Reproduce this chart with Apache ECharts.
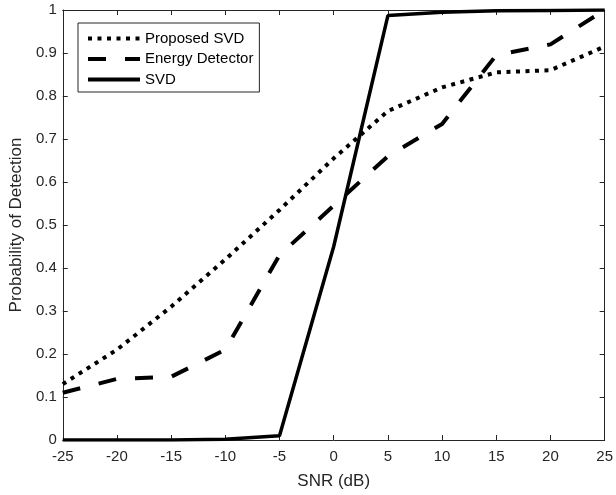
<!DOCTYPE html>
<html>
<head>
<meta charset="utf-8">
<script src="https://cdn.jsdelivr.net/npm/echarts@6/dist/echarts.min.js"></script>
<style>
html,body{margin:0;padding:0;background:#fff;}
#chart{width:616px;height:495px;}
</style>
</head>
<body>
<div id="chart"></div>
<script>
const snr = [-25, -20, -15, -10, -5, 0, 5, 10, 15, 20, 25];
const proposedSVD = [0.13, 0.21, 0.31, 0.42, 0.535, 0.655, 0.765, 0.82, 0.855, 0.86, 0.915];
const energyDetector = [0.11, 0.142, 0.147, 0.21, 0.43, 0.545, 0.66, 0.735, 0.895, 0.92, 1.0];
const svd = [0, 0, 0, 0.002, 0.01, 0.45, 0.987, 0.995, 0.998, 0.999, 1.0];
const seriesNames = ['Proposed SVD', 'Energy Detector', 'SVD'];

const pairs = arr => snr.map((x, i) => [x, arr[i]]);
const font = 'Liberation Sans, Arial, Helvetica, sans-serif';
const axisColor = '#262626';

const chart = echarts.init(document.getElementById('chart'), null, {renderer: 'canvas'});
const xBase = {
  type: 'value', min: -25, max: 25, interval: 5,
  axisLine: {show: true, onZero: false, lineStyle: {color: axisColor, width: 1}},
  axisTick: {show: true, inside: true, length: 5, lineStyle: {color: axisColor}},
  splitLine: {show: false}
};
const yBase = {
  type: 'value', min: 0, max: 1, interval: 0.1,
  axisLine: {show: true, onZero: false, lineStyle: {color: axisColor, width: 1}},
  axisTick: {show: true, inside: true, length: 5, lineStyle: {color: axisColor}},
  splitLine: {show: false}
};
chart.setOption({
  animation: false,
  backgroundColor: '#ffffff',
  grid: {left: 61, right: 7, top: 10, bottom: 55, containLabel: false},
  legend: {
    data: seriesNames,
    orient: 'vertical',
    left: 78, top: 23,
    padding: [7, 6, 4, 8],
    itemGap: 3.5,
    itemWidth: 52, itemHeight: 14,
    borderColor: axisColor, borderWidth: 1,
    backgroundColor: '#fff',
    itemStyle: {opacity: 0},
    lineStyle: {width: 4},
    textStyle: {fontFamily: font, fontSize: 15, color: '#000', lineHeight: 17}
  },
  xAxis: [
    Object.assign({}, xBase, {
      position: 'bottom',
      name: 'SNR (dB)', nameLocation: 'middle', nameGap: 33,
      nameTextStyle: {fontFamily: font, fontSize: 17, color: axisColor},
      axisLabel: {show: true, margin: 9, fontFamily: font, fontSize: 15, color: axisColor,
        formatter: v => String(v)}
    }),
    Object.assign({}, xBase, {position: 'top', axisLabel: {show: false}})
  ],
  yAxis: [
    Object.assign({}, yBase, {
      position: 'left',
      name: 'Probability of Detection', nameLocation: 'middle', nameGap: 34,
      nameTextStyle: {fontFamily: font, fontSize: 17, color: axisColor},
      axisLabel: {show: true, margin: 6, fontFamily: font, fontSize: 15, color: axisColor,
        formatter: v => String(Math.round(v * 10) / 10)}
    }),
    Object.assign({}, yBase, {position: 'right', axisLabel: {show: false}})
  ],
  series: [
    {
      name: seriesNames[0], type: 'line', data: pairs(proposedSVD),
      symbol: 'none', color: '#000',
      lineStyle: {color: '#000', width: 4, type: [4, 5.5], cap: 'butt'}
    },
    {
      name: seriesNames[1], type: 'line', data: pairs(energyDetector),
      symbol: 'none', color: '#000',
      lineStyle: {color: '#000', width: 4, type: [18, 19], cap: 'butt'}
    },
    {
      name: seriesNames[2], type: 'line', data: pairs(svd),
      symbol: 'none', color: '#000',
      lineStyle: {color: '#000', width: 3.5, type: 'solid'}
    }
  ]
});
</script>
</body>
</html>
